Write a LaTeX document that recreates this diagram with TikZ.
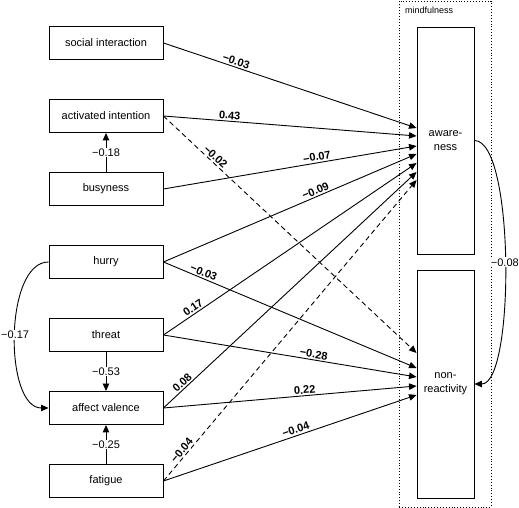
\documentclass[tikz,border=0pt]{standalone}
\usepackage{fontspec}
\setmainfont{Liberation Sans}
\usetikzlibrary{arrows.meta}

\tikzset{
  var/.style={draw, line width=0.9pt, minimum width=114pt, minimum height=33pt, inner sep=0pt, font=\fontsize{11}{14}\selectfont},
  facet/.style={draw, line width=0.9pt, minimum width=57pt, minimum height=227pt, inner sep=0pt, align=center, font=\fontsize{11}{14}\selectfont},
  effect/.style={->, line width=0.9pt},
  coef/.style={sloped, above, inner sep=1.5pt, font=\bfseries\fontsize{11}{13}\selectfont},
  vcoef/.style={fill=white, inner sep=1pt, font=\fontsize{11}{13}\selectfont}
}

\begin{document}
\begin{tikzpicture}[x=1pt,y=1pt,>={Triangle[length=7.5pt,width=6.5pt]}]
\useasboundingbox (0,0) rectangle (519,508);
% mindfulness block
\draw [dotted, line width=0.9pt] (399,1) rectangle (491,507);
\node (mf) [anchor=west, inner sep=0pt, font=\fontsize{9}{10}\selectfont] at (405,497.5) {mindfulness};
\node (aw) [facet] at (445.5,367.5) {aware-\\ness};
\node (nr) [facet, minimum height=228pt] at (445.5,124) {non-\\reactivity};
% predictors
\node (soc) [var] at (106,465) {social interaction};
\node (act) [var] at (106,392) {activated intention};
\node (bus) [var] at (106,319) {busyness};
\node (hur) [var] at (106,246) {hurry};
\node (thr) [var] at (106,173) {threat};
\node (aff) [var] at (106,100) {affect valence};
\node (fat) [var] at (106,27) {fatigue};
% paths among predictors
\draw [effect] (bus.north) -- node[vcoef] {−0.18} (act.south);
\draw [effect] (thr.south) -- node[vcoef] {−0.53} (aff.north);
\draw [effect] (fat.north) -- node[vcoef] {−0.25} (aff.south);
\draw [effect] (hur.west) .. controls (4,246) and (4,100) .. node[vcoef, pos=0.5] {−0.17} (aff.west);
% paths to awareness
\draw [effect] (soc.east) -- node[coef, pos=0.28] {−0.03} ([yshift=12.5pt]aw.west);
\draw [effect] (act.east) -- node[coef, pos=0.26] {0.43} ([yshift=4.5pt]aw.west);
\draw [effect] (bus.east) -- node[coef, pos=0.61] {−0.07} ([yshift=-5.5pt]aw.west);
\draw [effect] (hur.east) -- node[coef, pos=0.61] {−0.09} ([yshift=-13.5pt]aw.west);
\draw [effect] (thr.east) -- node[coef, pos=0.13] {0.17} ([yshift=-22.5pt]aw.west);
\draw [effect] (aff.east) -- node[coef, pos=0.09] {0.08} ([yshift=-31.5pt]aw.west);
\draw [effect, dash pattern=on 5pt off 3.5pt] (fat.east) -- node[coef, pos=0.09] {−0.04} ([yshift=-39.5pt]aw.west);
% paths to non-reactivity
\draw [effect, dash pattern=on 5pt off 3.5pt] (act.east) -- node[coef, pos=0.19] {−0.02} ([yshift=31pt]nr.west);
\draw [effect] (hur.east) -- node[coef, pos=0.15] {−0.03} ([yshift=16pt]nr.west);
\draw [effect] (thr.east) -- node[coef, pos=0.59] {−0.28} ([yshift=7pt]nr.west);
\draw [effect] (aff.east) -- node[coef, pos=0.56] {0.22} ([yshift=-2pt]nr.west);
\draw [effect] (fat.east) -- node[coef, pos=0.53] {−0.04} ([yshift=-11pt]nr.west);
% awareness -> non-reactivity
\draw [effect] (aw.east) .. controls (515,367.5) and (515,124) .. node[vcoef, pos=0.5] {−0.08} (nr.east);
\end{tikzpicture}
\end{document}
